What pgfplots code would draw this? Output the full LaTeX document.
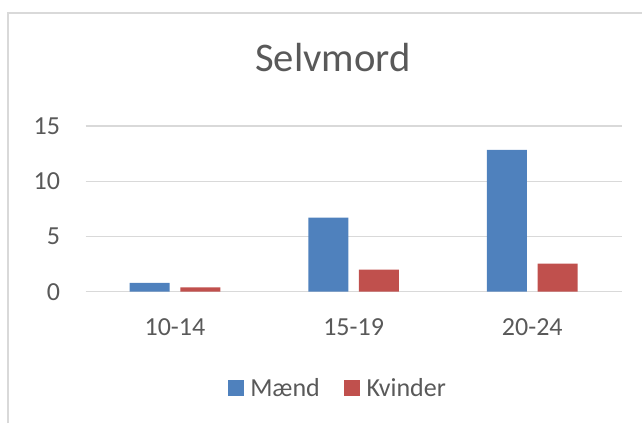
\documentclass[border=0pt]{standalone}
\usepackage{fontspec}
\setmainfont{Carlito}
\usepackage{pgfplots}
\pgfplotsset{compat=1.18}
\definecolor{mblue}{HTML}{4F81BD}
\definecolor{kred}{HTML}{C0504D}
\definecolor{txt}{HTML}{595959}
\definecolor{gridc}{HTML}{D9D9D9}
\begin{document}
\begin{tikzpicture}
\useasboundingbox (-64.2pt,-98.5pt) rectangle (417.3pt,218.8pt);
\draw[gridc, line width=1.5pt] (-58.2pt,-98.5pt) -- (-58.2pt,209pt) -- (417.3pt,209pt);
\begin{axis}[
  at={(0pt,0pt)}, anchor=south west,
  scale only axis, width=402pt, height=124.3pt,
  ybar=8pt, bar width=30pt,
  xmin=-0.5, xmax=2.5, ymin=0, ymax=15,
  xtick={0,1,2}, xticklabels={10-14,15-19,20-24},
  ytick={0,5,10,15},
  axis line style={draw=none},
  ymajorgrids, grid style={gridc, line width=1pt},
  major tick length=0pt, tick style={draw=none},
  tick label style={font=\fontsize{19.5}{23}\selectfont, text=txt},
  yticklabel style={anchor=east, inner sep=0pt, xshift=-19pt},
  xticklabel style={anchor=north, inner sep=0pt, yshift=-20pt},
  /pgf/number format/assume math mode=true,
  legend columns=2,
  legend style={at={(0.471,-0.581)}, anchor=center, draw=none, fill=none,
    font=\fontsize{19.5}{23}\selectfont, text=txt,
    /tikz/every even column/.append style={column sep=16pt}},
  legend image code/.code={\fill[#1] (0pt,-6pt) rectangle (12pt,6pt); \path (15pt,0pt);},
]
\addplot[fill=mblue, draw=none] coordinates {(0,0.8) (1,6.7) (2,12.85)};
\addplot[fill=kred, draw=none] coordinates {(0,0.4) (1,2.0) (2,2.55)};
\legend{Mænd,Kvinder}
\end{axis}
\node[anchor=base, font=\fontsize{30.5}{36}\selectfont, text=txt, inner sep=0pt] at (185.6pt,165pt) {Selvmord};
\end{tikzpicture}
\end{document}
